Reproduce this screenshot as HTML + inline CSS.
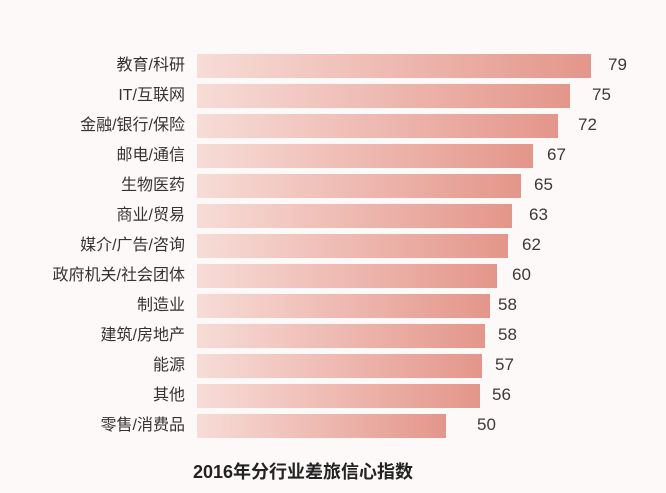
<!DOCTYPE html><html><head><style>
body{margin:0;width:666px;height:493px;background:#fdf9f9;font-family:"Liberation Sans","Noto Sans CJK SC",sans-serif;position:relative;overflow:hidden}
.l{position:absolute;right:481px;font-size:16px;color:#333;height:24px;line-height:24px;white-space:nowrap}
.b{position:absolute;left:197px;height:24px}
.v{position:absolute;font-size:17px;color:#3a3a3a;height:24px;line-height:24px}
.t{position:absolute;left:193px;top:458px;font-size:18px;font-weight:bold;color:#222;white-space:nowrap}
</style></head><body>
<div id="c"></div>
<div class="t">2016年分行业差旅信心指数</div>
<script>
var d=[["教育/科研",79,591,608],["IT/互联网",75,570,592],["金融/银行/保险",72,558,578],["邮电/通信",67,533,547],["生物医药",65,521,534],["商业/贸易",63,512,529],["媒介/广告/咨询",62,508,522],["政府机关/社会团体",60,497,512],["制造业",58,490,498],["建筑/房地产",58,485,498],["能源",57,482,495],["其他",56,480,492],["零售/消费品",50,446,477]];
var h="";d.forEach(function(r,i){var y=54+i*30,w=r[2]-197;
h+='<div class="l" style="top:'+y+'px">'+r[0]+'</div><div class="b" style="top:'+y+'px;width:'+w+'px;background:linear-gradient(90deg,#f7dcd7,#e4968a)"></div><div class="v" style="top:'+(y-1)+'px;left:'+r[3]+'px">'+r[1]+'</div>';});
document.getElementById("c").innerHTML=h;
</script></body></html>
